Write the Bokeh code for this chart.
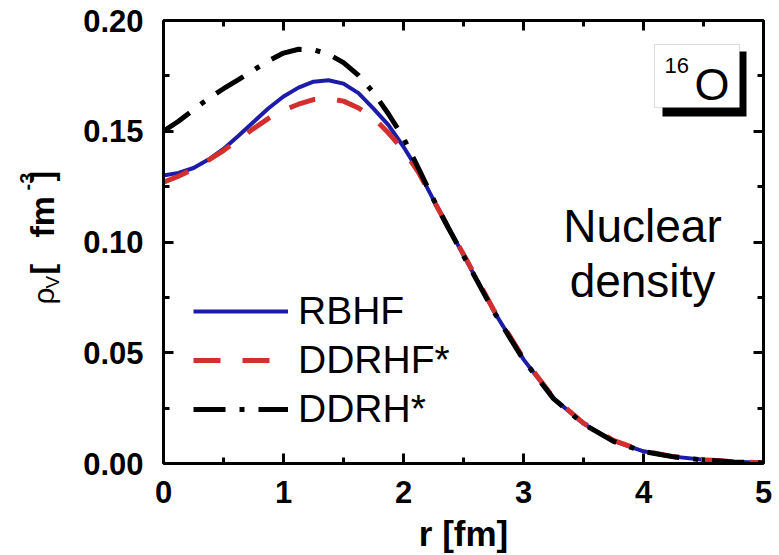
import math
from bokeh.plotting import figure
from bokeh.layouts import row
from bokeh.models import (Range1d, LinearAxis, SingleIntervalTicker, PrintfTickFormatter,
                          Legend, LegendItem, Label, BoxAnnotation, ColumnDataSource)
from bokeh.embed import file_html
from bokeh.resources import INLINE

# ---- data ----
r = [0.0, 0.125, 0.25, 0.375, 0.5, 0.625, 0.75, 0.875, 1.0, 1.125, 1.25, 1.375, 1.5,
     1.625, 1.75, 1.875, 2.0, 2.125, 2.25, 2.375,
     2.5, 2.75, 3.0, 3.25, 3.5, 3.75, 4.0, 4.25, 4.5, 4.75, 5.0]
rbhf = [0.1300, 0.1312, 0.1334, 0.1372, 0.1420, 0.1480, 0.1542, 0.1604, 0.1657, 0.1697,
        0.1724, 0.1730, 0.1715, 0.1672, 0.1602, 0.1528, 0.1430, 0.1320, 0.1190, 0.1066,
        0.0940, 0.0690, 0.0470, 0.0295, 0.0180, 0.0102, 0.0055, 0.0031, 0.0017, 0.0008, 0.0003]
ddrhf = [0.1270, 0.1297, 0.1330, 0.1370, 0.1413, 0.1462, 0.1512, 0.1558, 0.1595, 0.1622,
         0.1643, 0.1648, 0.1636, 0.1605, 0.1560, 0.1492, 0.1415, 0.1315, 0.1188, 0.1064,
         0.0945, 0.0695, 0.0475, 0.0298, 0.0182, 0.0104, 0.0056, 0.0031, 0.0017, 0.0008, 0.0003]
ddrh = [0.1500, 0.1545, 0.1597, 0.1648, 0.1692, 0.1733, 0.1776, 0.1818, 0.1853, 0.1870,
        0.1868, 0.1848, 0.1810, 0.1752, 0.1675, 0.1578, 0.1470, 0.1332, 0.1192, 0.1062,
        0.0938, 0.0688, 0.0468, 0.0293, 0.0178, 0.0100, 0.0054, 0.0030, 0.0016, 0.0007, 0.0002]
series_names = ["RBHF", "DDRHF*", "DDRH*"]
x_title = "r [fm]"

BLUE = "#1c1ca8"
RED = "#d2302e"
BLACK = "#000000"
FONT = "Liberation Sans"

W, H = 779, 555
YW = 70                      # width of the strip that holds the rotated y title
L, R_, T, B = 163, 16, 20, 92
X0, X1, Y0, Y1 = 0.0, 5.0, 0.0, 0.2
fw, fh = W - L - R_, H - T - B

def dx(px):  # page x -> data
    return X0 + (px - L) / fw * (X1 - X0)

def dy(py):  # page y -> data
    return Y0 + (H - B - py) / fh * (Y1 - Y0)

MID = 0.35  # distance baseline -> text middle, in em

p = figure(width=W - YW, height=H, output_backend="svg", toolbar_location=None,
           x_range=Range1d(X0, X1), y_range=Range1d(Y0, Y1),
           x_axis_type=None, y_axis_type=None,
           min_border_left=L - YW, min_border_right=R_, min_border_top=T, min_border_bottom=B)
p.outline_line_color = None
p.background_fill_color = "white"
p.border_fill_color = "white"

xt = SingleIntervalTicker(interval=1, num_minor_ticks=2)
yt = SingleIntervalTicker(interval=0.05, num_minor_ticks=2)

def style(ax, show):
    ax.axis_line_width = 3
    ax.axis_line_color = "black"
    ax.major_tick_in = 10
    ax.major_tick_out = 0
    ax.minor_tick_in = 6
    ax.minor_tick_out = 0
    ax.major_tick_line_width = 3
    ax.minor_tick_line_width = 3
    ax.major_label_text_font = FONT
    ax.major_label_text_font_style = "bold"
    if show:
        ax.major_label_text_color = "black"
        ax.major_label_text_font_size = "31px"
        ax.major_label_standoff = 20
    else:
        ax.major_label_text_color = None
        ax.major_label_text_alpha = 0
        ax.major_label_text_font_size = "1px"
        ax.major_label_standoff = 0

bx = LinearAxis(ticker=xt); style(bx, True)
bx.major_label_standoff = 17
bx.axis_label = x_title
bx.axis_label_text_font = FONT
bx.axis_label_text_font_style = "bold"
bx.axis_label_text_font_size = "35px"
bx.axis_label_text_color = "black"
bx.axis_label_standoff = 8
tx = LinearAxis(ticker=xt); style(tx, False)
ly = LinearAxis(ticker=yt, formatter=PrintfTickFormatter(format="%.2f")); style(ly, True)
ry = LinearAxis(ticker=yt); style(ry, False)
p.add_layout(bx, "below")
p.add_layout(tx, "above")
p.add_layout(ly, "left")
p.add_layout(ry, "right")

src = ColumnDataSource(dict(r=r, rbhf=rbhf, ddrhf=ddrhf, ddrh=ddrh))
g1 = p.line("r", "rbhf", source=src, line_color=BLUE, line_width=4)
g2 = p.line("r", "ddrhf", source=src, line_color=RED, line_width=5, line_dash="27 22")
g3 = p.line("r", "ddrh", source=src, line_color=BLACK, line_width=5, line_dash="32 14 5 14")

legend = Legend(items=[LegendItem(label=series_names[0], renderers=[g1]),
                       LegendItem(label=series_names[1], renderers=[g2]),
                       LegendItem(label=series_names[2], renderers=[g3])],
                location=(30, 32), glyph_width=95, glyph_height=40, label_height=40,
                label_width=10, spacing=5, padding=0, margin=0, label_standoff=10,
                label_text_font=FONT, label_text_font_size="39px", label_text_color="black",
                border_line_color=None, background_fill_alpha=0)
p.add_layout(legend)

def text_at(px, baseline_py, text, size, align="left"):
    p.add_layout(Label(x=dx(px), y=dy(baseline_py - MID * size), text=text, text_font=FONT,
                       text_font_size=f"{size}px", text_color="black",
                       text_baseline="middle", text_align=align))

# 16O box with shadow
p.add_layout(BoxAnnotation(left=dx(662), right=dx(746), top=dy(51), bottom=dy(116),
                           fill_color="black", fill_alpha=1, line_color=None))
p.add_layout(BoxAnnotation(left=dx(654), right=dx(739), top=dy(44), bottom=dy(107),
                           fill_color="white", fill_alpha=1, line_color="#8a8a8a", line_width=1))
text_at(664, 73, "16", 22)
text_at(694, 100, "O", 45)

# Nuclear density
text_at(642, 242, "Nuclear", 46, "center")
text_at(642, 297, "density", 46, "center")

# ---- strip with the rotated y-axis title (frame aligned with the main frame) ----
q = figure(width=YW, height=H, output_backend="svg", toolbar_location=None,
           x_range=Range1d(0, YW), y_range=Range1d(H - B, T),
           x_axis_type=None, y_axis_type=None,
           min_border_left=0, min_border_right=0, min_border_top=T, min_border_bottom=B)
q.outline_line_color = None
q.background_fill_color = "white"
q.border_fill_color = "white"

A = math.pi / 2
def ylab(text, base_x, start_y, size, style="normal"):
    q.add_layout(Label(x=base_x - MID * size, y=start_y, text=text, angle=A, text_font=FONT,
                       text_font_size=f"{size}px", text_font_style=style, text_color="black",
                       text_baseline="middle", text_align="left"))

ylab("\u03c1", 53, 304, 30)
ylab("V", 59, 288, 19)
ylab("[", 53, 274, 32, "bold")
ylab("fm", 53, 237, 34, "bold")
ylab("-3", 33, 190, 20, "bold")
ylab("]", 53, 181, 32, "bold")

layout = row(q, p, spacing=0)
open("out.html", "w").write(file_html(layout, INLINE))
